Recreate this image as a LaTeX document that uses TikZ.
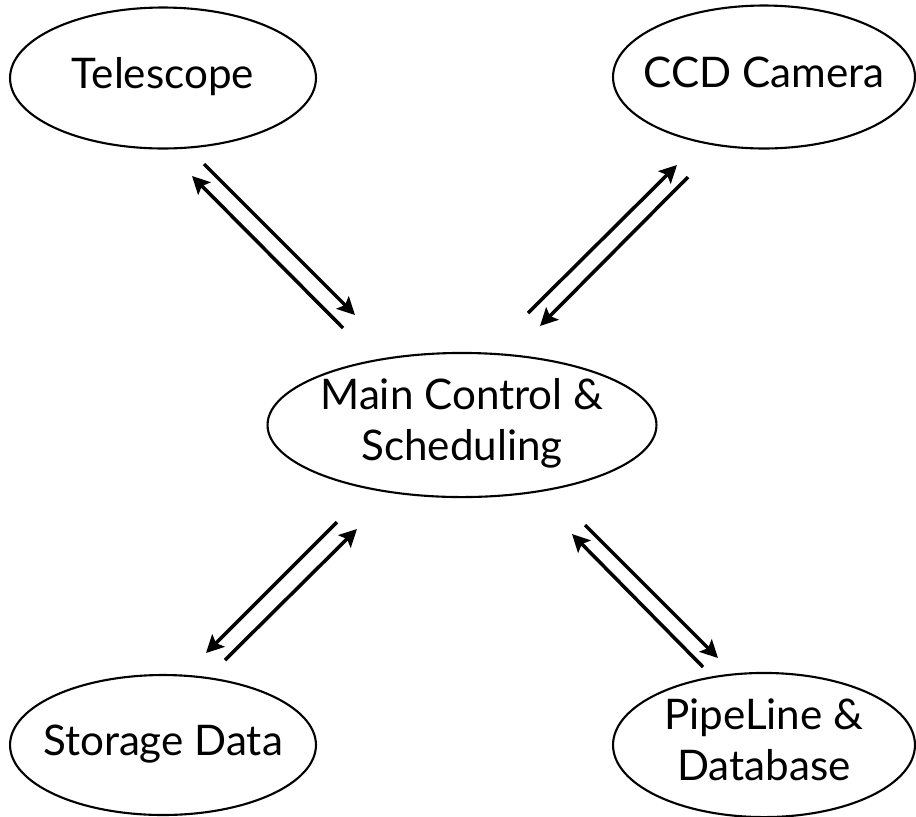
\documentclass[tikz,border=0pt]{standalone}
\usepackage{fontspec}
\setmainfont{Lato}
\usepackage{tikz}
\usetikzlibrary{arrows.meta, shapes.geometric}

% keep the text out of the ellipse size
\newcommand{\unittext}[1]{\makebox[0pt]{\raisebox{-3pt}{\begin{tabular}{@{}c@{}}#1\end{tabular}}}}

\begin{document}
\begin{tikzpicture}[x=0.02cm, y=-0.02cm,
    unit/.style={ellipse, draw, line width=1.2pt, inner sep=0pt,
        font=\fontsize{24}{29}\selectfont},
    link/.style={line width=2pt, -{Stealth[length=10pt, width=10pt, inset=2pt]}}]
    \useasboundingbox (0,0) rectangle (916,816);
    % units
    \node[unit, minimum width=6.12cm, minimum height=2.82cm] (tel) at (163,78) {\unittext{Telescope}};
    \node[unit, minimum width=6.04cm, minimum height=2.86cm] (ccd) at (764,77) {\unittext{CCD Camera}};
    \node[unit, minimum width=7.78cm, minimum height=2.8cm] (main) at (462,425) {\unittext{Main Control \&\\Scheduling}};
    \node[unit, minimum width=6.12cm, minimum height=2.8cm] (store) at (163,745) {\unittext{Storage Data}};
    \node[unit, minimum width=6.04cm, minimum height=2.84cm] (pipe) at (764,745) {\unittext{PipeLine \&\\Database}};
    % free arrow ends
    \coordinate (t1) at (204,164); \coordinate (t2) at (355,315);
    \coordinate (t3) at (343,328); \coordinate (t4) at (192,176);
    \coordinate (c1) at (528,313); \coordinate (c2) at (677,165);
    \coordinate (c3) at (688,177); \coordinate (c4) at (540,326);
    \coordinate (s1) at (337,522); \coordinate (s2) at (206,653);
    \coordinate (s3) at (225,660); \coordinate (s4) at (357,529);
    \coordinate (p1) at (585,525); \coordinate (p2) at (718,658);
    \coordinate (p3) at (703,667); \coordinate (p4) at (572,534);
    % links
    \draw[link] (t1) -- (t2);
    \draw[link] (t3) -- (t4);
    \draw[link] (c1) -- (c2);
    \draw[link] (c3) -- (c4);
    \draw[link] (s1) -- (s2);
    \draw[link] (s3) -- (s4);
    \draw[link] (p1) -- (p2);
    \draw[link] (p3) -- (p4);
\end{tikzpicture}
\end{document}
